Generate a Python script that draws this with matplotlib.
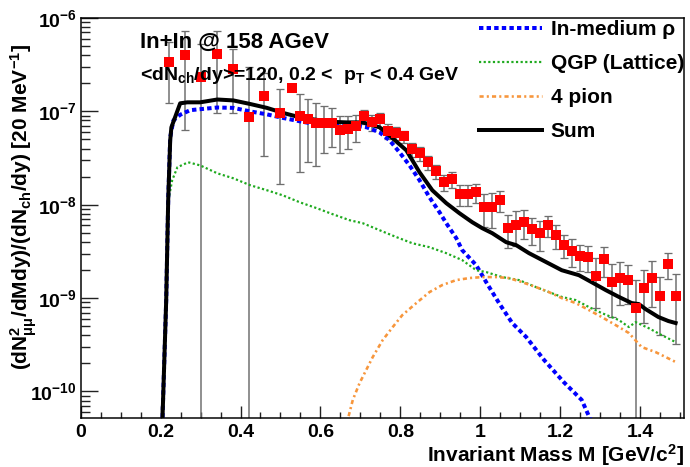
import numpy as np
import matplotlib
matplotlib.use("Agg")
import matplotlib.pyplot as plt
from matplotlib.ticker import FixedLocator, FuncFormatter, LogLocator, NullFormatter

plt.rcParams['font.family'] = ['Liberation Sans', 'DejaVu Sans']
plt.rcParams['font.weight'] = 'bold'
plt.rcParams['mathtext.fontset'] = 'custom'
plt.rcParams['mathtext.rm'] = 'Liberation Sans:bold'
plt.rcParams['mathtext.it'] = 'Liberation Sans:bold'
plt.rcParams['mathtext.bf'] = 'Liberation Sans:bold'
plt.rcParams['mathtext.default'] = 'regular'

# ---------------- data ----------------
mass = [0.22, 0.26, 0.30, 0.34, 0.38, 0.42, 0.46, 0.50,
        0.53, 0.55, 0.57, 0.59, 0.61, 0.63, 0.65, 0.67, 0.69, 0.71,
        0.73, 0.75, 0.77, 0.79, 0.81, 0.83, 0.85, 0.87, 0.89, 0.91,
        0.93, 0.95, 0.97, 0.99, 1.01, 1.03, 1.05, 1.07, 1.09, 1.11,
        1.13, 1.15, 1.17, 1.19, 1.21, 1.23, 1.25, 1.27, 1.29, 1.31,
        1.33, 1.35, 1.37, 1.39, 1.41, 1.43, 1.45, 1.47, 1.49]
yield_data = [3.37e-7, 3.97e-7, 2.33e-7, 4.07e-7, 2.81e-7, 8.63e-8, 1.45e-7, 9.52e-8,
              1.76e-7, 8.85e-8, 8.2e-8, 7.44e-8, 7.44e-8, 7.44e-8, 6.26e-8, 6.41e-8, 6.92e-8, 8.85e-8,
              7.69e-8, 8.2e-8, 6.15e-8, 5.82e-8, 5.4e-8, 3.92e-8, 3.56e-8, 2.85e-8, 2.28e-8, 1.75e-8,
              1.87e-8, 1.29e-8, 1.29e-8, 1.36e-8, 9.4e-9, 9.46e-9, 1.12e-8, 5.65e-9, 6.04e-9, 6.55e-9,
              5.47e-9, 4.96e-9, 6.04e-9, 4.72e-9, 3.69e-9, 3.21e-9, 2.83e-9, 2.75e-9, 1.73e-9, 2.61e-9,
              1.48e-9, 1.64e-9, 1.56e-9, 7.8e-10, 1.28e-9, 1.65e-9, 1.05e-9, 2.31e-9, 1.06e-9]
yield_err = [2.15e-7, 3.34e-7, 3.0e-7, 3.12e-7, 1.86e-7, 2.1e-7, 1.12e-7, 7.86e-8,
             5e-9, 6.6e-8, 5.35e-8, 4.84e-8, 3.88e-8, 3.32e-8, 2.7e-8, 2.49e-8, 2.26e-8, 1.5e-8,
             1.5e-8, 1.35e-8, 1.1e-8, 9e-9, 8e-9, 7e-9, 6e-9, 5e-9, 4e-9, 3.5e-9,
             3.5e-9, 3.3e-9, 3.3e-9, 3.2e-9, 3.6e-9, 3.8e-9, 2.8e-9, 2.2e-9, 2.45e-9, 2.27e-9,
             1.78e-9, 1.75e-9, 1.55e-9, 1.38e-9, 1.0e-9, 1.05e-9, 0.87e-9, 0.84e-9, 0.95e-9, 0.92e-9,
             0.85e-9, 0.8e-9, 0.7e-9, 8e-10, 7.4e-10, 8.4e-10, 6.5e-10, 7.1e-10, 7.4e-10]

rho_m = [0.203, 0.214, 0.219, 0.224, 0.232, 0.249, 0.274, 0.342, 0.382, 0.424, 0.466, 0.506,
         0.549, 0.591, 0.631, 0.666, 0.698, 0.716, 0.748, 0.773, 0.798, 0.823, 0.848, 0.873,
         0.898, 0.915, 0.940, 0.955, 0.990, 1.015, 1.047, 1.080, 1.115, 1.160, 1.209, 1.254,
         1.274, 1.284]
rho_y = [3e-11, 9.5e-10, 1.12e-8, 5.27e-8, 8.0e-8, 9.2e-8, 1.03e-7, 1.10e-7, 1.09e-7, 1.0e-7, 9.29e-8, 8.51e-8,
         7.82e-8, 7.26e-8, 7.0e-8, 6.92e-8, 6.92e-8, 6.75e-8, 5.96e-8, 4.9e-8, 3.64e-8, 2.64e-8, 1.83e-8, 1.20e-8,
         8.32e-9, 6.34e-9, 4.39e-9, 3.26e-9, 2.25e-9, 1.48e-9, 8.85e-10, 5.41e-10, 3.83e-10, 2.17e-10, 1.26e-10, 8.11e-11,
         5.2e-11, 3.7e-11]

qgp_m = [0.203, 0.214, 0.219, 0.229, 0.242, 0.269, 0.299, 0.342, 0.382, 0.424, 0.466, 0.506,
         0.549, 0.591, 0.631, 0.673, 0.706, 0.766, 0.791, 0.830, 0.873, 0.915, 0.955, 0.990,
         1.015, 1.055, 1.097, 1.140, 1.172, 1.204, 1.239, 1.272, 1.304, 1.347, 1.372, 1.389,
         1.421, 1.454, 1.489]
qgp_y = [3e-11, 9.0e-10, 1.1e-8, 1.83e-8, 2.52e-8, 2.85e-8, 2.64e-8, 2.17e-8, 1.92e-8, 1.62e-8, 1.43e-8, 1.26e-8,
         1.06e-8, 9.18e-9, 7.91e-9, 6.83e-9, 6.34e-9, 4.96e-9, 4.49e-9, 3.87e-9, 3.51e-9, 3.03e-9, 2.55e-9, 1.99e-9,
         1.90e-9, 1.68e-9, 1.56e-9, 1.31e-9, 1.16e-9, 1.03e-9, 9.53e-10, 8.02e-10, 6.92e-10, 5.82e-10, 4.9e-10, 5.53e-10,
         4.78e-10, 4.02e-10, 3.38e-10]

pion4_m = [0.655, 0.681, 0.698, 0.731, 0.756, 0.781, 0.805, 0.840, 0.873, 0.905, 0.940, 0.973,
           1.005, 1.040, 1.072, 1.105, 1.140, 1.172, 1.204, 1.239, 1.272, 1.304, 1.339, 1.372,
           1.404, 1.439, 1.489]
pion4_y = [3e-11, 8.11e-11, 1.23e-10, 2.34e-10, 3.56e-10, 4.9e-10, 6.58e-10, 8.85e-10, 1.16e-9, 1.38e-9, 1.56e-9, 1.64e-9,
           1.68e-9, 1.68e-9, 1.64e-9, 1.48e-9, 1.31e-9, 1.16e-9, 1.0e-9, 8.85e-10, 7.45e-10, 6.27e-10, 5.14e-10, 4.23e-10,
           2.99e-10, 2.64e-10, 2.07e-10]

sum_m = [0.203, 0.214, 0.219, 0.224, 0.227, 0.249, 0.267, 0.299, 0.342, 0.382, 0.424, 0.466, 0.506,
         0.549, 0.591, 0.631, 0.666, 0.706, 0.748, 0.781, 0.815, 0.848, 0.880, 0.915, 0.948,
         0.980, 1.005, 1.030, 1.065, 1.090, 1.122, 1.165, 1.204, 1.247, 1.279, 1.314, 1.347,
         1.379, 1.397, 1.414, 1.446, 1.471, 1.489]
sum_y = [3e-11, 9.5e-10, 1.12e-8, 4.9e-8, 6.75e-8, 1.22e-7, 1.25e-7, 1.25e-7, 1.34e-7, 1.31e-7, 1.20e-7, 1.09e-7, 9.64e-8,
         8.63e-8, 8.11e-8, 7.72e-8, 7.62e-8, 7.62e-8, 6.75e-8, 5.14e-8, 3.83e-8, 2.23e-8, 1.43e-8, 1.04e-8, 8.11e-9,
         6.5e-9, 5.61e-9, 4.96e-9, 3.97e-9, 3.69e-9, 3.03e-9, 2.43e-9, 1.99e-9, 1.76e-9, 1.48e-9, 1.22e-9, 1.03e-9,
         8.85e-10, 8.63e-10, 7.62e-10, 6.27e-10, 5.68e-10, 5.41e-10]

legend_labels = ["In-medium ρ", "QGP (Lattice)", "4 pion", "Sum"]
x_ticks = [0, 0.2, 0.4, 0.6, 0.8, 1.0, 1.2, 1.4]

# ---------------- figure ----------------
fig = plt.figure(figsize=(6.9, 4.67), dpi=100)
ax = fig.add_axes([80.7/690, 1-418/467, (684-80.7)/690, (418-18)/467])
ax.set_xlim(0, 1.51)
ax.set_ylim(5.2e-11, 1e-6)
ax.set_yscale('log')

lw_px = 0.72
l_rho, = ax.plot(rho_m, rho_y, color='#0000ff', lw=4*lw_px, dashes=(1.1, 0.8),
                 dash_capstyle='butt', zorder=3)
l_qgp, = ax.plot(qgp_m, qgp_y, color='#1faa1f', lw=2.2*lw_px, dashes=(1.0, 1.1),
                 dash_capstyle='butt', zorder=3)
l_pion, = ax.plot(pion4_m, pion4_y, color='#f7963c', lw=2.6*lw_px, dashes=(1.6, 1.2, 0.8, 1.2),
                  dash_capstyle='butt', zorder=3)
l_sum, = ax.plot(sum_m, sum_y, color='black', lw=4*lw_px, zorder=3)

yd = np.array(yield_data)
ye = np.array(yield_err)
lower = np.minimum(ye, yd - 1e-13)
eb = ax.errorbar(mass, yd, yerr=[lower, ye], fmt='none', ecolor='#6e6e6e',
                 elinewidth=1.5*lw_px, capsize=3, capthick=1.3*lw_px, zorder=2)
for cl in eb[1]:
    cl.set_color('#333333')
ax.plot(mass, yd, linestyle='none', marker='s', markersize=7.0, color='#ff0000',
        markeredgewidth=0, zorder=5)

# ticks
ax.xaxis.set_major_locator(FixedLocator(x_ticks))
ax.xaxis.set_minor_locator(FixedLocator([i*0.05 for i in range(31)]))
ax.xaxis.set_major_formatter(FuncFormatter(lambda v, p: '%g' % v))
ax.yaxis.set_major_locator(LogLocator(base=10, numticks=20))
ax.yaxis.set_minor_locator(LogLocator(base=10, subs=np.arange(2, 10), numticks=20))
ax.yaxis.set_minor_formatter(NullFormatter())
ax.yaxis.set_major_formatter(FuncFormatter(lambda v, p: r'$10^{%d}$' % int(round(np.log10(v)))))
ax.tick_params(axis='both', which='both', direction='in', width=1.4*lw_px, color='#222222',
               labelsize=14)
ax.tick_params(axis='x', which='major', length=12*lw_px, pad=4)
ax.tick_params(axis='x', which='minor', length=6*lw_px)
ax.tick_params(axis='y', which='major', length=17*lw_px, pad=3)
ax.tick_params(axis='y', which='minor', length=9*lw_px)
for lab in ax.get_xticklabels() + ax.get_yticklabels():
    lab.set_fontweight('bold')
for s in ax.spines.values():
    s.set_linewidth(1.5*lw_px)

# labels
fig.text(684/690, 1-455.5/467, r'Invariant Mass M [GeV/c$^{2}$]', ha='right', va='center',
         fontsize=15, fontweight='bold')
fig.text(24/690, 1-207/467, r'(dN$^{2}_{μμ}$/dMdy)/(dN$_{ch}$/dy) [20 MeV$^{-1}$]',
         rotation=90, ha='center', va='center', fontsize=15, fontweight='bold')

fig.text(140/690, 1-42/467, 'In+In @ 158 AGeV', ha='left', va='center', fontsize=16,
         fontweight='bold')
fig.text(140/690, 1-75/467, r'<dN$_{ch}$/dy>=120, 0.2 <  p$_{T}$ < 0.4 GeV', ha='left',
         va='center', fontsize=14, fontweight='bold')

leg = ax.legend([l_rho, l_qgp, l_pion, l_sum], legend_labels, loc='upper left',
                bbox_to_anchor=(479/690, 1-20/467), bbox_transform=fig.transFigure,
                frameon=False, fontsize=15, handlelength=3.0, handletextpad=0.45,
                labelspacing=0.72, borderpad=0, borderaxespad=0)
for t in leg.get_texts():
    t.set_fontweight('bold')

fig.savefig('out.png', dpi=100)
